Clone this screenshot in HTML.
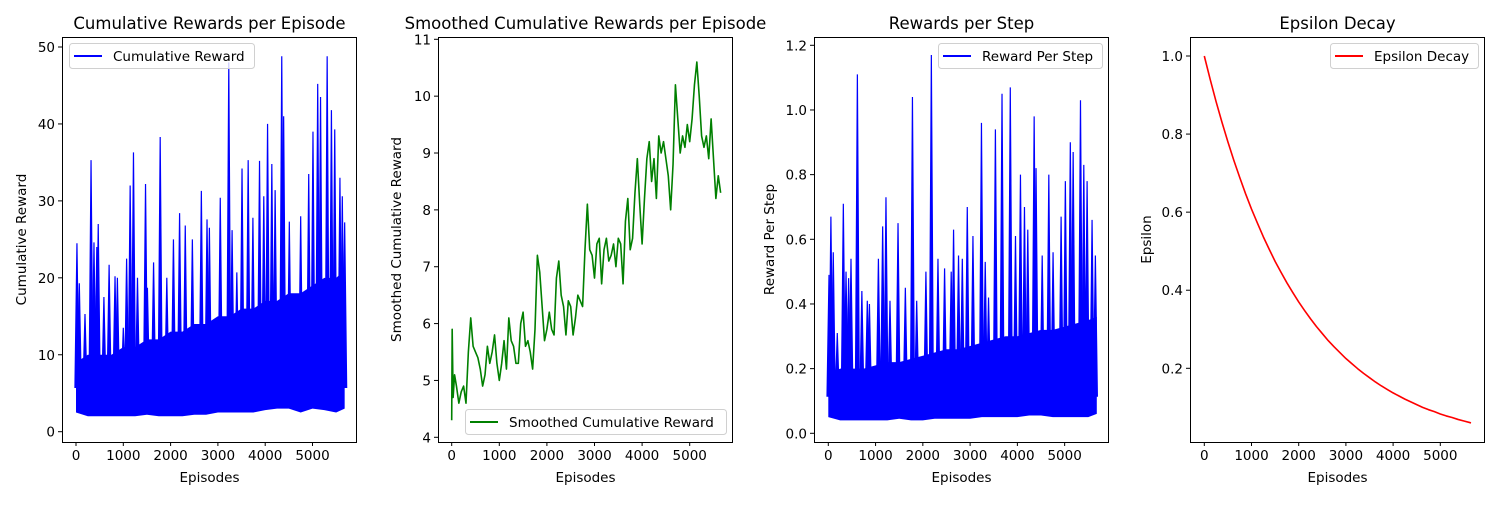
<!DOCTYPE html>
<html><head><meta charset="utf-8"><style>
html,body{margin:0;padding:0;background:#fff}
svg text{font-family:"DejaVu Sans","Liberation Sans",sans-serif;fill:#000}
</style></head><body>
<svg id="fig" width="1500" height="500" viewBox="0 0 1500 500" xmlns="http://www.w3.org/2000/svg"></svg>
<script>
// ---------- data ----------
const xTicks = [0,1000,2000,3000,4000,5000];
const bodyEpisodes = [0,250,500,750,1000,1250,1500,1750,2000,2250,2500,2750,3000,3250,3500,3750,4000,4250,4500,4750,5000,5250,5500,5680];
// Panel 1: cumulative reward
const cumBodyHigh = [9,10,10,10,11,11,12,12,13,13,14,14,15,15,16,16,17,17,18,18,19,20,20,21];
const cumBodyLow  = [2.5,2,2,2,2,2,2.2,2,2,2,2.2,2.2,2.5,2.5,2.5,2.5,2.8,3,3,2.5,3,2.8,2.5,3];
const cumSpikeEp  = [20,70,190,318,380,440,470,590,700,825,875,1000,1070,1145,1215,1300,1470,1510,1640,1780,1920,2060,2190,2310,2460,2650,2770,2820,3050,3230,3300,3400,3510,3640,3740,3880,3970,4050,4140,4210,4350,4390,4510,4750,4920,5010,5110,5170,5310,5400,5470,5580,5630,5680];
const cumSpikeVal = [24.5,19.3,15.3,35.3,24.6,24,27,17.5,21.7,20.2,20,13.5,22.5,32,36.3,20,32.2,18.7,22,38.3,20,25,28.4,26.8,25,31.3,27.6,26.5,30.4,48,26.2,20.7,34.2,35.3,27.8,35.2,30.6,40,34.8,31.4,48.8,41,27.3,28,33.5,39,45.2,43.5,48.8,41.8,39.3,33,30.6,27.2];
const cumYTicks = [0,10,20,30,40,50];
// Panel 2: smoothed
const smEp = [0,10,30,60,100,150,200,250,300,350,400,450,500,550,600,650,700,750,800,850,900,950,1000,1050,1100,1150,1200,1250,1300,1350,1400,1450,1500,1550,1600,1650,1700,1750,1800,1850,1900,1950,2000,2050,2100,2150,2200,2250,2300,2350,2400,2450,2500,2550,2600,2650,2700,2750,2800,2850,2900,2950,3000,3050,3100,3150,3200,3250,3300,3350,3400,3450,3500,3550,3600,3650,3700,3750,3800,3850,3900,3950,4000,4050,4100,4150,4200,4250,4300,4350,4400,4450,4500,4550,4600,4650,4700,4750,4800,4850,4900,4950,5000,5050,5100,5150,5200,5250,5300,5350,5400,5450,5500,5550,5600,5650];
const smVal = [4.3,5.9,4.7,5.1,4.9,4.6,4.8,4.9,4.6,5.5,6.1,5.6,5.5,5.4,5.2,4.9,5.1,5.6,5.3,5.5,5.8,5.3,5.0,5.3,5.7,5.2,6.1,5.7,5.6,5.3,5.3,6.0,6.2,5.6,5.7,5.5,5.2,5.9,7.2,6.9,6.3,5.7,5.9,6.2,5.9,5.8,6.8,7.1,6.5,6.3,5.8,6.4,6.3,5.8,6.1,6.5,6.4,6.3,7.3,8.1,7.3,7.2,6.8,7.4,7.5,6.7,7.3,7.5,7.1,7.2,7.4,7.0,7.5,7.4,6.7,7.8,8.2,7.3,7.5,8.3,8.9,8.1,7.4,8.2,8.9,9.2,8.5,8.9,8.2,9.3,9.0,9.2,8.9,8.6,8.0,8.8,10.2,9.6,9.0,9.3,9.1,9.5,9.2,9.6,10.2,10.6,10.0,9.3,9.1,9.3,8.9,9.6,8.9,8.2,8.6,8.3];
const smYTicks = [4,5,6,7,8,9,10,11];
// Panel 3: reward per step
const rpsBodyHigh = [0.18,0.2,0.2,0.2,0.21,0.22,0.22,0.23,0.24,0.25,0.26,0.26,0.27,0.28,0.29,0.3,0.3,0.31,0.32,0.32,0.33,0.34,0.35,0.36];
const rpsBodyLow  = [0.05,0.04,0.04,0.04,0.04,0.04,0.045,0.04,0.04,0.045,0.045,0.045,0.045,0.05,0.05,0.05,0.05,0.055,0.055,0.05,0.05,0.05,0.05,0.06];
const rpsSpikeEp  = [15,55,105,190,318,375,430,480,615,710,825,870,1060,1150,1220,1305,1475,1630,1780,1870,2065,2180,2320,2460,2600,2650,2755,2835,2940,3060,3240,3320,3390,3535,3675,3850,3960,4065,4150,4220,4355,4395,4525,4665,4755,4925,5015,5120,5180,5335,5405,5475,5580,5650];
const rpsSpikeVal = [0.49,0.67,0.56,0.31,0.71,0.5,0.48,0.54,1.11,0.44,0.41,0.40,0.54,0.64,0.73,0.41,0.65,0.45,1.04,0.41,0.50,1.17,0.54,0.51,0.50,0.63,0.55,0.54,0.70,0.61,0.96,0.53,0.42,0.94,1.05,1.07,0.61,0.80,0.70,0.63,0.98,0.82,0.55,0.80,0.56,0.67,0.78,0.90,0.87,1.03,0.83,0.78,0.66,0.55];
const rpsYTicks = [0.0,0.2,0.4,0.6,0.8,1.0,1.2];
// Panel 4: epsilon
const epsEp  = [0,125,250,375,500,625,750,875,1000,1125,1250,1375,1500,1625,1750,1875,2000,2125,2250,2375,2500,2625,2750,2875,3000,3125,3250,3375,3500,3625,3750,3875,4000,4125,4250,4375,4500,4625,4750,4875,5000,5125,5250,5375,5500,5625,5650];
const epsVal = [1.0,0.94,0.883,0.830,0.780,0.733,0.689,0.647,0.608,0.572,0.537,0.505,0.474,0.446,0.419,0.394,0.370,0.348,0.327,0.307,0.289,0.271,0.255,0.240,0.225,0.212,0.199,0.187,0.176,0.165,0.155,0.146,0.137,0.129,0.121,0.114,0.107,0.100,0.094,0.089,0.083,0.078,0.074,0.069,0.065,0.061,0.060];
const epsYTicks = [0.2,0.4,0.6,0.8,1.0];

// ---------- helpers ----------
const NS = "http://www.w3.org/2000/svg";
const svg = document.getElementById('fig');
function mk(tag, attrs, parent, text){
  const e = document.createElementNS(NS, tag);
  for (const k in attrs) e.setAttribute(k, attrs[k]);
  if (text !== undefined) e.textContent = text;
  (parent||svg).appendChild(e);
  return e;
}
function panel(cfg){
  const g = mk('g', {});
  
  
  const L=cfg.left, R=L+295, T=37, B=442;
  const sx = v => cfg.x0 + v*cfg.xs;
  const sy = v => cfg.yA + (v-cfg.vA)*(cfg.yB-cfg.yA)/(cfg.vB-cfg.vA);
  const cid = cfg.name+'-clip';
  const defs = mk('defs', {}, g);
  const cp = mk('clipPath', {id:cid}, defs);
  mk('rect', {x:L, y:T, width:295, height:B-T}, cp);
  const plot = mk('g', {'clip-path':'url(#'+cid+')'}, g);
  
  
  cfg.draw(plot, sx, sy);
  const fr = mk('rect', {x:L+0.5, y:T+0.5, width:294, height:B-T, fill:'none', stroke:'#000', 'stroke-width':1}, g);
  
  
  xTicks.forEach(t=>{
    const x = sx(t);
    mk('line', {x1:x, x2:x, y1:B, y2:B+4, stroke:'#000'}, g);
    const tx = mk('text', {x:x, y:B+18, 'font-size':13.5, 'text-anchor':'middle'}, g, String(t));
    
    
  });
  cfg.yTicks.forEach(t=>{
    const y = sy(t);
    mk('line', {x1:L-4, x2:L, y1:y, y2:y, stroke:'#000'}, g);
    const tx = mk('text', {x:L-7, y:y+5, 'font-size':13.5, 'text-anchor':'end'}, g, cfg.fmt(t));
    
    
  });
  const xl = mk('text', {x:L+147.5, y:482, 'font-size':13.5, 'text-anchor':'middle'}, g, 'Episodes');
  
  
  const yl = mk('text', {x:0, y:0, 'font-size':13.5, 'text-anchor':'middle', transform:'translate('+cfg.ylx+','+(T+B)/2+') rotate(-90)'}, g, cfg.ylabel);
  
  
  const tt = mk('text', {x:L+147.5, y:29, 'font-size':16.5, 'text-anchor':'middle'}, g, cfg.title);
  
  
  const lg = mk('g', {}, g);
  
  
  const lx=cfg.leg[0], ly=cfg.leg[1], lw=cfg.leg[2];
  mk('rect', {x:lx+0.5, y:ly+0.5, width:lw, height:25, rx:3, fill:'#fff', 'fill-opacity':0.8, stroke:'#d0d0d0'}, lg);
  mk('line', {x1:lx+5, x2:lx+33, y1:ly+13, y2:ly+13, stroke:cfg.color, 'stroke-width':2}, lg);
  const lt = mk('text', {x:lx+44, y:ly+18, 'font-size':13.5}, lg, cfg.legText);
  
  
}
function noisy(plot, sx, sy, hi, lo, spE, spV, color){
  let pts = [];
  bodyEpisodes.forEach((e,i)=>pts.push(sx(e)+','+sy(hi[i])));
  for (let i=bodyEpisodes.length-1;i>=0;i--) pts.push(sx(bodyEpisodes[i])+','+sy(lo[i]));
  const body = mk('polygon', {points:pts.join(' '), fill:color}, plot);
  
  
  spE.forEach((e,i)=>{
    const x = sx(e);
    const base = sy(lo[0]+(hi[0]-lo[0])*0.5);
    const s = mk('polygon', {points:(x-2)+','+base+' '+x+','+sy(spV[i])+' '+(x+2)+','+base, fill:color, stroke:color, 'stroke-width':1.2}, plot);
    
    
  });
}
function line(plot, sx, sy, xs, ys, color, name){
  const p = mk('polyline', {points:xs.map((e,i)=>sx(e)+','+sy(ys[i])).join(' '), fill:'none', stroke:color, 'stroke-width':1.6, 'stroke-linejoin':'round'}, plot);
  
  
}

panel({name:'cumulative-reward-panel', left:62, x0:76, xs:0.0473, yA:431.7, vA:0, yB:47, vB:50,
  yTicks:cumYTicks, fmt:t=>String(t), ylx:26, ylabel:'Cumulative Reward', title:'Cumulative Rewards per Episode',
  leg:[69,43,185], color:'#0000ff', legText:'Cumulative Reward',
  draw:(p,sx,sy)=>noisy(p,sx,sy,cumBodyHigh,cumBodyLow,cumSpikeEp,cumSpikeVal,'#0000ff')});
panel({name:'smoothed-reward-panel', left:438, x0:451.7, xs:0.0476, yA:437.3, vA:4, yB:39.3, vB:11,
  yTicks:smYTicks, fmt:t=>String(t), ylx:401, ylabel:'Smoothed Cumulative Reward', title:'Smoothed Cumulative Rewards per Episode',
  leg:[465,409,261], color:'#008000', legText:'Smoothed Cumulative Reward',
  draw:(p,sx,sy)=>line(p,sx,sy,smEp,smVal,'#008000','smoothed-reward-line')});
panel({name:'reward-per-step-panel', left:814, x0:828.3, xs:0.04727, yA:433.3, vA:0, yB:45.3, vB:1.2,
  yTicks:rpsYTicks, fmt:t=>t.toFixed(1), ylx:774, ylabel:'Reward Per Step', title:'Rewards per Step',
  leg:[938,43,164], color:'#0000ff', legText:'Reward Per Step',
  draw:(p,sx,sy)=>noisy(p,sx,sy,rpsBodyHigh,rpsBodyLow,rpsSpikeEp,rpsSpikeVal,'#0000ff')});
panel({name:'epsilon-panel', left:1190, x0:1204.3, xs:0.0472, yA:56, vA:1.0, yB:368.3, vB:0.2,
  yTicks:epsYTicks, fmt:t=>t.toFixed(1), ylx:1151, ylabel:'Epsilon', title:'Epsilon Decay',
  leg:[1330,43,148], color:'#ff0000', legText:'Epsilon Decay',
  draw:(p,sx,sy)=>line(p,sx,sy,epsEp,epsVal,'#ff0000','epsilon-line')});
</script>
</body></html>
